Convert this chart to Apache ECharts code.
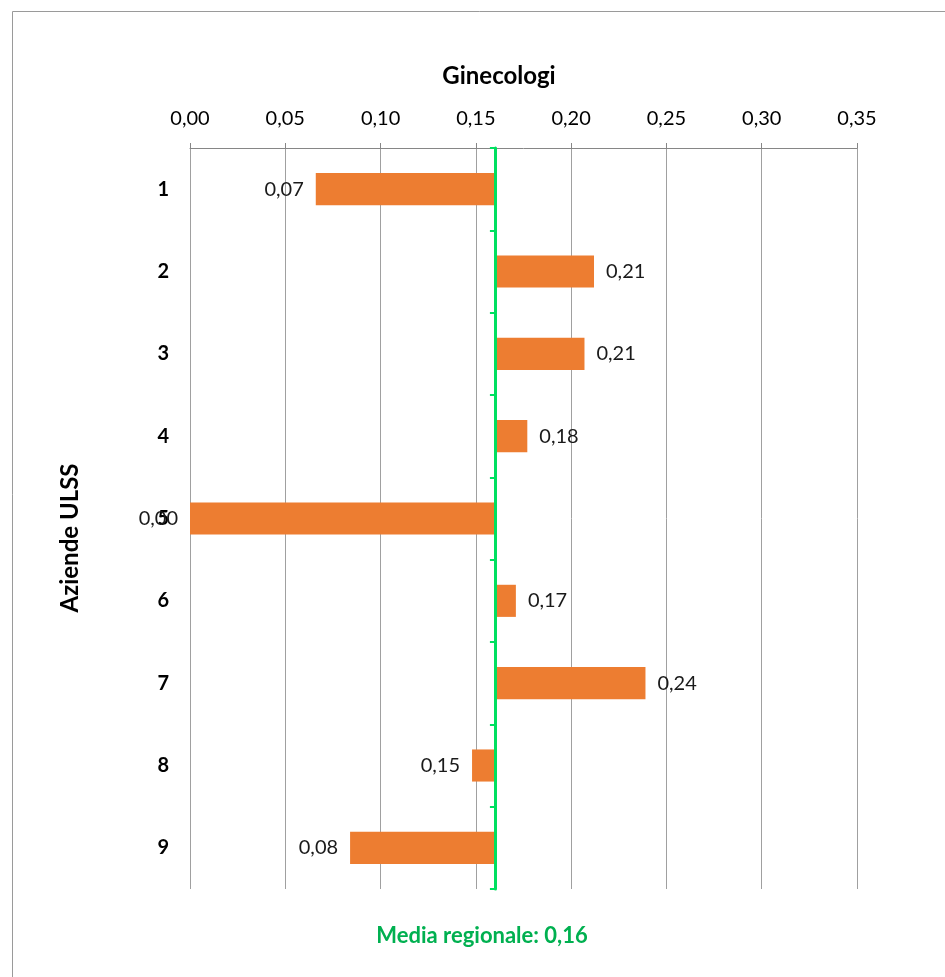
<!DOCTYPE html>
<html>
<head>
<meta charset="utf-8">
<script src="https://cdn.jsdelivr.net/npm/echarts@6/dist/echarts.min.js"></script>
<style>html,body{margin:0;padding:0;background:#fff}#c{width:945px;height:977px}</style>
</head>
<body>
<div id="c"></div>
<script>
const categories = ['1','2','3','4','5','6','7','8','9'];
const values = [0.066, 0.212, 0.207, 0.177, 0.00, 0.171, 0.239, 0.148, 0.084];
const average = 0.16;
const xTicks = { min: 0, max: 0.35, interval: 0.05 };
const titleText = 'Ginecologi';
const yName = 'Aziende ULSS';
const avgText = 'Media regionale: ' + average.toFixed(2).replace('.', ',');

const FONT = 'Lato, "Open Sans", sans-serif';
const fmt = v => v.toFixed(2).replace('.', ',');
const gridLeft = 190, gridRight = 88, gridTop = 148, gridBottom = 88;
const W = 945;
const gridW = W - gridLeft - gridRight;
const avgOffset = -gridW * (average - xTicks.min) / (xTicks.max - xTicks.min);

const baseData = values.map(v => Math.min(v, average));
const diffData = values.map(v => ({
  value: Math.abs(v - average),
  label: { position: v >= average ? 'right' : 'left', formatter: () => fmt(v) }
}));

const chart = echarts.init(document.getElementById('c'), null, { renderer: 'canvas' });
chart.setOption({
  animation: false,
  textStyle: { fontFamily: FONT },
  title: [
    { text: titleText, left: 494, top: 59, textAlign: 'center',
      textStyle: { fontFamily: FONT, fontSize: 24, fontWeight: 'bold', color: '#000' } },
    { text: avgText, left: 477, top: 920, textAlign: 'center',
      textStyle: { fontFamily: FONT, fontSize: 22, fontWeight: 'bold', color: '#00B050' } }
  ],
  graphic: [
    { type: 'rect', left: 10, top: 9, shape: { width: 1000, height: 1000 },
      style: { fill: 'none', stroke: '#9a9a9a', lineWidth: 1 }, silent: true },
    { type: 'text', x: 70, y: 538, rotation: Math.PI / 2,
      style: { text: yName, fontFamily: FONT, fontSize: 24, fontWeight: 'bold', fill: '#000',
               align: 'center', verticalAlign: 'middle' }, silent: true }
  ],
  grid: { left: gridLeft, right: gridRight, top: gridTop, bottom: gridBottom },
  xAxis: {
    type: 'value', position: 'top', min: xTicks.min, max: xTicks.max, interval: xTicks.interval,
    axisLine: { show: true, lineStyle: { color: '#868686', width: 1 } },
    axisTick: { show: true, length: 5, lineStyle: { color: '#868686' } },
    splitLine: { show: true, lineStyle: { color: '#a0a0a0', width: 1 } },
    axisLabel: { formatter: v => fmt(v), fontSize: 20, color: '#000', margin: 19, fontFamily: FONT }
  },
  yAxis: [
    { type: 'category', data: categories, inverse: true,
      axisLine: { show: false }, axisTick: { show: false },
      axisLabel: { fontSize: 20, fontWeight: 'bold', color: '#000', margin: 21, fontFamily: FONT } },
    { type: 'category', data: categories, inverse: true, position: 'left', offset: avgOffset, z: 5,
      axisLine: { show: true, lineStyle: { color: '#00E060', width: 3 } },
      axisTick: { show: true, length: 5, lineStyle: { color: '#00E060', width: 2 } },
      axisLabel: { show: false }, splitLine: { show: false } }
  ],
  series: [
    { type: 'bar', stack: 't', data: baseData, itemStyle: { color: 'transparent' },
      barWidth: '39%', silent: true },
    { type: 'bar', stack: 't', data: diffData, barWidth: '39%',
      itemStyle: { color: '#ED7D31' },
      label: { show: true, distance: 12, fontSize: 20, color: '#1a1a1a', fontFamily: FONT } }
  ]
});
</script>
</body>
</html>
